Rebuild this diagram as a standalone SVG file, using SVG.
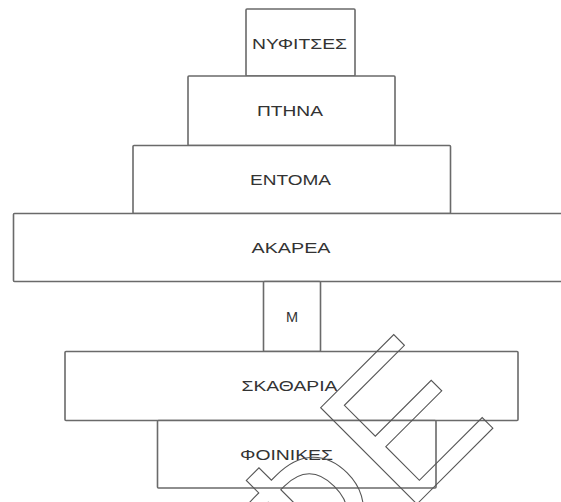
<svg xmlns="http://www.w3.org/2000/svg" width="561" height="502" viewBox="0 0 561 502">
<style>
.box{fill:#ffffff;stroke:#6a6a6a;stroke-width:1.6}
.lbl{font-family:"Liberation Sans",Arial,sans-serif;font-size:14.5px;fill:#333333;text-anchor:middle}
.wm{font-family:"Liberation Sans",Arial,sans-serif;font-size:198px;fill:none;stroke:#555555;stroke-width:1.1}
</style>
<rect width="561" height="502" fill="#ffffff"/>
<g id="connectors"/>
<g id="node-nyfitses">
<rect class="box" x="246" y="9" width="109" height="67" rx="1"/>
<text class="lbl" x="299.5" y="48.5" textLength="95" lengthAdjust="spacingAndGlyphs">ΝΥΦΙΤΣΕΣ</text>
</g>
<g id="node-ptina">
<rect class="box" x="188" y="76" width="207" height="69.5" rx="1"/>
<text class="lbl" x="290" y="116" textLength="66" lengthAdjust="spacingAndGlyphs">ΠΤΗΝΑ</text>
</g>
<g id="node-entoma">
<rect class="box" x="133" y="145.5" width="317.5" height="68" rx="1"/>
<text class="lbl" x="290.5" y="185" textLength="81" lengthAdjust="spacingAndGlyphs">ΕΝΤΟΜΑ</text>
</g>
<g id="node-akarea">
<rect class="box" x="13.5" y="213.5" width="560" height="68" rx="1"/>
<text class="lbl" x="291" y="252.5" textLength="79" lengthAdjust="spacingAndGlyphs">ΑΚΑΡΕΑ</text>
</g>
<g id="node-m">
<rect class="box" x="263.5" y="281.5" width="57" height="70" rx="1"/>
<text class="lbl" x="292" y="321.5">Μ</text>
</g>
<g id="node-skatharia">
<rect class="box" x="65" y="351.5" width="453" height="69" rx="1"/>
<text class="lbl" x="289.5" y="391" textLength="96" lengthAdjust="spacingAndGlyphs">ΣΚΑΘΑΡΙΑ</text>
</g>
<g id="node-foinikes">
<rect class="box" x="157.5" y="420.5" width="278.5" height="67.5" rx="1"/>
<text class="lbl" x="286.5" y="459.5" textLength="93" lengthAdjust="spacingAndGlyphs">ΦΟΙΝΙΚΕΣ</text>
</g>
<g id="watermark">
<text class="wm" transform="translate(-8,-2) rotate(-45)" x="-231.4" y="658.3">ΦΕ</text>
</g>
</svg>
